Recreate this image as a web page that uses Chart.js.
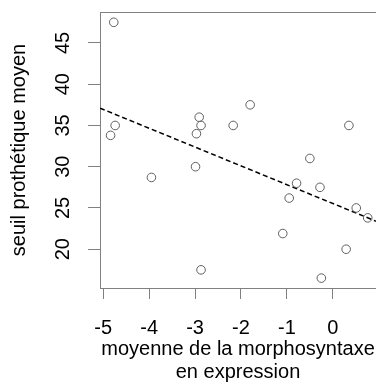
<!DOCTYPE html>
<html>
<head>
<meta charset="utf-8">
<script src="https://cdn.jsdelivr.net/npm/chart.js@4/dist/chart.umd.min.js"></script>
<style>
  html, body { margin: 0; padding: 0; background: #fff; }
  #wrap { width: 376px; height: 385px; }
</style>
</head>
<body>
<div id="wrap"><canvas id="chart" width="376" height="385"></canvas></div>
<script>
// moyenne de la morphosyntaxe en expression (x) / seuil prothétique moyen (y)
const morphoX = [-4.77, -4.74, -4.84, -3.95, -2.99, -2.97, -2.91, -2.87, -2.87, -2.17, -1.80,
                 -1.09, -0.95, -0.79, -0.50, -0.28, -0.25, 0.29, 0.35, 0.51, 0.76];
const seuilY  = [47.5, 35.0, 33.8, 28.7, 30.0, 34.0, 36.0, 35.0, 17.5, 35.0, 37.5,
                 21.9, 26.2, 28.0, 31.0, 27.5, 16.5, 20.0, 35.0, 25.0, 23.8];

// droite de régression (lm)
const fitIntercept = 25.54;
const fitSlope = -2.28;

const xTicks = [-5, -4, -3, -2, -1, 0];
const yTicks = [20, 25, 30, 35, 40, 45];
const xRange = [-5.07, 0.94];
const yRange = [15.3, 48.75];

const FONT = "'Liberation Sans', Arial, Helvetica, sans-serif";
const AXIS_GREY = '#808080';

Chart.defaults.color = '#000';
Chart.defaults.font.family = FONT;

const points = morphoX.map((x, i) => ({ x: x, y: seuilY[i] }));
const fitLine = xRange.map(x => ({ x: x, y: fitIntercept + fitSlope * x }));

// trait du haut du cadre (le côté droit est hors image)
const boxTop = {
    id: 'boxTop',
    afterDraw(chart) {
        const { ctx, chartArea } = chart;
        ctx.save();
        ctx.strokeStyle = AXIS_GREY;
        ctx.lineWidth = 1;
        ctx.beginPath();
        ctx.moveTo(chartArea.left, Math.round(chartArea.top) + 0.5);
        ctx.lineTo(chartArea.right, Math.round(chartArea.top) + 0.5);
        ctx.stroke();
        ctx.restore();
    }
};

function fixedTicks(values) {
    return scale => { scale.ticks = values.map(v => ({ value: v })); };
}

new Chart(document.getElementById('chart'), {
    type: 'scatter',
    data: {
        datasets: [
            {
                data: points,
                pointRadius: 4.3,
                pointHoverRadius: 4.3,
                pointBorderWidth: 1,
                borderColor: '#5e5e5e',
                backgroundColor: 'rgba(0,0,0,0)'
            },
            {
                type: 'line',
                data: fitLine,
                borderColor: '#000',
                borderWidth: 1.5,
                borderDash: [5, 3],
                pointRadius: 0,
                fill: false
            }
        ]
    },
    options: {
        responsive: false,
        animation: false,
        events: [],
        layout: { autoPadding: false, padding: { top: 12, right: 0, left: 0, bottom: 0 } },
        plugins: { legend: { display: false }, tooltip: { enabled: false } },
        scales: {
            x: {
                type: 'linear',
                min: xRange[0],
                max: xRange[1],
                afterBuildTicks: fixedTicks(xTicks),
                afterFit: scale => {
                    scale.height = 97;
                    scale.paddingLeft = 0;
                    scale.paddingRight = 0;
                },
                grid: { drawOnChartArea: false, drawTicks: true, tickLength: 11, color: AXIS_GREY },
                border: { display: true, color: AXIS_GREY, width: 1 },
                ticks: { font: { size: 20 }, padding: 17, maxRotation: 0 },
                title: {
                    display: true,
                    text: ['moyenne de la morphosyntaxe', 'en expression'],
                    font: { size: 20, lineHeight: 1.15 },
                    padding: { top: 0, bottom: 1.5 }
                }
            },
            y: {
                type: 'linear',
                min: yRange[0],
                max: yRange[1],
                afterBuildTicks: fixedTicks(yTicks),
                afterFit: scale => {
                    scale.width = 100;
                    scale.paddingTop = 0;
                    scale.paddingBottom = 0;
                },
                grid: { drawOnChartArea: false, drawTicks: true, tickLength: 12, color: AXIS_GREY },
                border: { display: true, color: AXIS_GREY, width: 1 },
                ticks: { font: { size: 20 }, padding: 13, minRotation: 90, maxRotation: 90, crossAlign: 'center' },
                title: {
                    display: true,
                    text: 'seuil prothétique moyen',
                    font: { size: 20, lineHeight: 1.15 },
                    padding: { top: 7.5, bottom: 0 }
                }
            }
        }
    },
    plugins: [boxTop]
});
</script>
</body>
</html>
